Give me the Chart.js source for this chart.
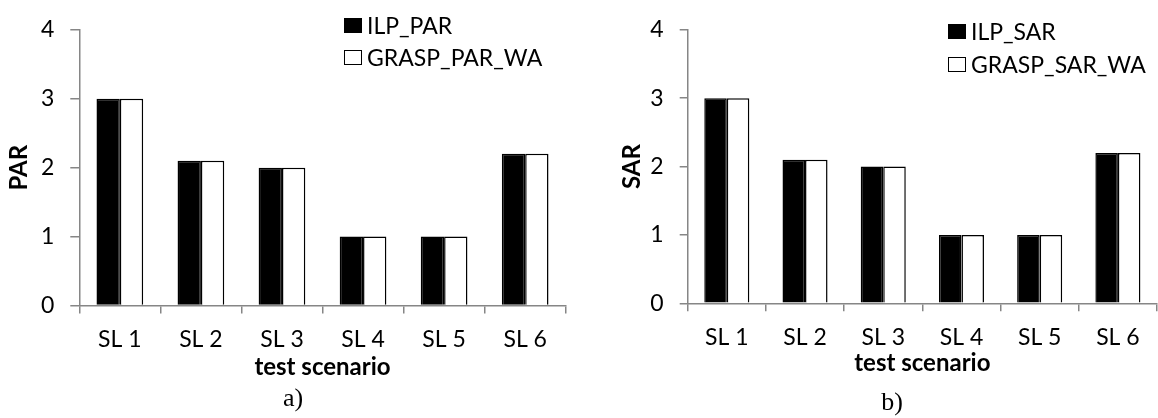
<!DOCTYPE html>
<html>
<head>
<meta charset="utf-8">
<script src="https://cdn.jsdelivr.net/npm/chart.js@4.4.1/dist/chart.umd.min.js"></script>
<style>
  html, body { margin: 0; padding: 0; background: #fff; }
  #wrap { position: relative; width: 1158px; height: 418px; overflow: hidden; background: #fff; }
  canvas { position: absolute; top: 0; }
  .legend { position: absolute; font-family: Lato, sans-serif; font-size: 23px; color: #000; }
  .legend .row { position: absolute; white-space: nowrap; display: flex; align-items: center; height: 30px; }
  .legend .box { width: 16px; height: 13px; border: 1.5px solid #000; margin-right: 5px; }
  .cap { position: absolute; font-family: "Liberation Serif", "DejaVu Serif", serif; font-size: 26px; transform: translate(-50%, -50%); white-space: nowrap; }
</style>
</head>
<body>
<div id="wrap">
  <canvas id="c1" width="580" height="418" style="left:0;width:580px;height:418px"></canvas>
  <canvas id="c2" width="578" height="418" style="left:580px;width:578px;height:418px"></canvas>
  <div class="cap" style="left:293px;top:398px">a)</div>
  <div class="cap" style="left:892px;top:402px">b)</div>
</div>
<script>
// ---- data ----
const categories = ['SL 1', 'SL 2', 'SL 3', 'SL 4', 'SL 5', 'SL 6'];
const ilpPar     = [3, 2.1, 2, 1, 1, 2.2];
const graspParWa = [3, 2.1, 2, 1, 1, 2.2];
const ilpSar     = [3, 2.1, 2, 1, 1, 2.2];
const graspSarWa = [3, 2.1, 2, 1, 1, 2.2];
const seriesNamesA = ['ILP_PAR', 'GRASP_PAR_WA'];
const seriesNamesB = ['ILP_SAR', 'GRASP_SAR_WA'];
const yAxisTitles = ['PAR', 'SAR'];
const xAxisTitle = 'test scenario';
const yMin = 0, yMax = 4, yStep = 1;

const AXIS = '#868686';
const FONT = 'Lato';

function makeChart(id, names, d1, d2, yTitle, geo) {
  const ctx = document.getElementById(id).getContext('2d');
  return new Chart(ctx, {
    type: 'bar',
    data: {
      labels: categories,
      datasets: [
        { label: names[0], data: d1, backgroundColor: '#000', borderColor: '#000', borderWidth: 1.5 },
        { label: names[1], data: d2, backgroundColor: '#fff', borderColor: '#000', borderWidth: 1.5 }
      ]
    },
    options: {
      responsive: false,
      animation: false,
      events: [],
      datasets: { bar: { categoryPercentage: 0.576, barPercentage: 1.0 } },
      layout: { padding: { left: geo.padL, right: geo.padR, top: geo.padT, bottom: geo.padB } },
      plugins: { legend: { display: false }, tooltip: { enabled: false }, title: { display: false } },
      scales: {
        x: {
          grid: { display: true, drawOnChartArea: false, drawTicks: true, tickLength: 8, color: AXIS, lineWidth: 1.5, offset: true },
          border: { display: true, color: AXIS, width: 1.5 },
          ticks: { color: '#000', font: { family: FONT, size: 23 }, padding: geo.xPad, maxRotation: 0 },
          title: { display: true, text: xAxisTitle, color: '#000', font: { family: FONT, size: 24, weight: 'bold' }, padding: 0 },
          afterFit: (s) => { s.height = geo.xH; }
        },
        y: {
          min: yMin, max: yMax,
          grid: { display: true, drawOnChartArea: false, drawTicks: true, tickLength: geo.yTL, color: AXIS, lineWidth: 1.5 },
          border: { display: true, color: AXIS, width: 1.5 },
          ticks: { stepSize: yStep, color: '#000', font: { family: FONT, size: 23 }, padding: geo.yPad },
          title: { display: true, text: yTitle, color: '#000', font: { family: FONT, size: 24, weight: 'bold' }, padding: 0 },
          afterFit: (s) => { s.width = geo.yW; }
        }
      }
    }
  });
}

makeChart('c1', seriesNamesA, ilpPar, graspParWa, yAxisTitles[0],
  { padL: 4.6, padR: 14.3, padT: 14.7, padB: 36.6, xH: 75.9, yW: 74.7, xPad: 12.7, yPad: 16, yTL: 9 });
makeChart('c2', seriesNamesB, ilpSar, graspSarWa, yAxisTitles[1],
  { padL: 38.1, padR: 1, padT: 22, padB: 40.6, xH: 74.1, yW: 69.6, xPad: 12.9, yPad: 16, yTL: 8 });

// ---- legends (HTML text) ----
function makeLegend(names, colors, boxLeft, rowCenters) {
  const lg = document.createElement('div');
  lg.className = 'legend';
  lg.style.left = boxLeft + 'px';
  lg.style.top = '0px';
  names.forEach((n, i) => {
    const row = document.createElement('div');
    row.className = 'row';
    row.style.top = (rowCenters[i] - 15) + 'px';
    const b = document.createElement('span');
    b.className = 'box';
    b.style.background = colors[i];
    const t = document.createElement('span');
    t.textContent = n;
    row.appendChild(b); row.appendChild(t);
    lg.appendChild(row);
  });
  document.getElementById('wrap').appendChild(lg);
}
makeLegend(seriesNamesA, ['#000', '#fff'], 344, [25, 57]);
makeLegend(seriesNamesB, ['#000', '#fff'], 948, [31, 64]);
</script>
</body>
</html>
